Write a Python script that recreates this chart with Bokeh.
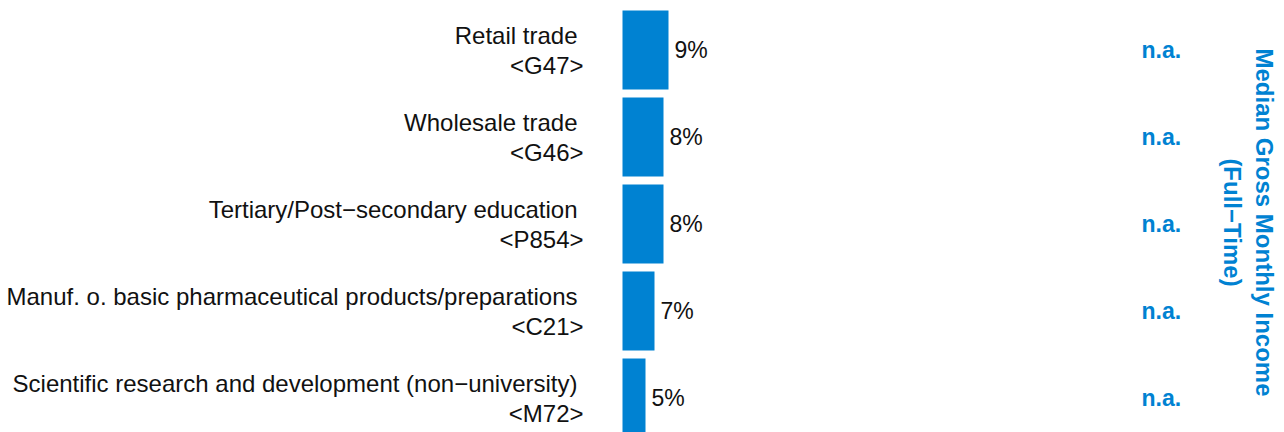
import math
from bokeh.plotting import figure
from bokeh.models import ColumnDataSource, Range1d
from bokeh.core.properties import value
from bokeh.embed import file_html
from bokeh.resources import INLINE

# ---- data ----
industries = [
    "Retail trade",
    "Wholesale trade",
    "Tertiary/Post\u2212secondary education",
    "Manuf. o. basic pharmaceutical products/preparations",
    "Scientific research and development (non\u2212university)",
]
codes = ["<G47>", "<G46>", "<P854>", "<C21>", "<M72>"]
shares = [9.2, 8.2, 8.2, 6.4, 4.6]
share_labels = ["9%", "8%", "8%", "7%", "5%"]
income_labels = ["n.a.", "n.a.", "n.a.", "n.a.", "n.a."]
title_lines = ["Median Gross Monthly Income", "(Full\u2212Time)"]

BLUE = "#0082D2"
FONT = "Liberation Sans"
FS = "24px"
FS_SMALL = "23px"

rows = list(range(len(industries)))
src = ColumnDataSource(dict(
    y=rows, name=industries, code=codes, share=shares,
    slabel=share_labels, inc=income_labels,
))

PX = 5.0          # pixels per percentage point
X0 = 622          # pixel of zero
PITCH = 87.0      # pixels per row
Y0 = 49.5         # pixel center of first row

p = figure(width=1284, height=432, output_backend="svg", toolbar_location=None,
           x_range=Range1d(-X0 / PX, (1284 - X0) / PX),
           y_range=Range1d((432 - Y0) / PITCH, -Y0 / PITCH),
           min_border=0, outline_line_color=None)
p.xaxis.visible = False
p.yaxis.visible = False
p.grid.visible = False
p.background_fill_color = "white"
p.border_fill_color = "white"

p.hbar(y="y", left=0, right="share", height=79 / PITCH, source=src,
       fill_color=BLUE, line_color=None)

# share labels
p.text(x="share", y="y", text="slabel", source=src, x_offset=6,
       text_font=value(FONT), text_font_size=FS_SMALL, text_color="#111111",
       text_align="left", text_baseline="middle")

# industry names (two lines)
xr = (583 - X0) / PX
p.text(x=xr, y="y", text="name", source=src, x_offset=-6, y_offset=-15,
       text_font=value(FONT), text_font_size=FS, text_color="#111111",
       text_align="right", text_baseline="middle")
p.text(x=xr, y="y", text="code", source=src, y_offset=15,
       text_font=value(FONT), text_font_size=FS, text_color="#111111",
       text_align="right", text_baseline="middle")

# income column
p.text(x=(1141 - X0) / PX, y="y", text="inc", source=src,
       text_font=value(FONT), text_font_size=FS_SMALL, text_font_style="bold",
       text_color=BLUE, text_align="left", text_baseline="middle")

# rotated title
tsrc = ColumnDataSource(dict(
    x=[(1264 - X0) / PX, (1232 - X0) / PX],
    y=[(222 - Y0) / PITCH] * 2,
    t=title_lines,
))
p.text(x="x", y="y", text="t", source=tsrc, angle=-math.pi / 2,
       text_font=value(FONT), text_font_size=FS, text_font_style="bold",
       text_color=BLUE, text_align="center", text_baseline="middle")

open("out.html", "w").write(file_html(p, INLINE))
